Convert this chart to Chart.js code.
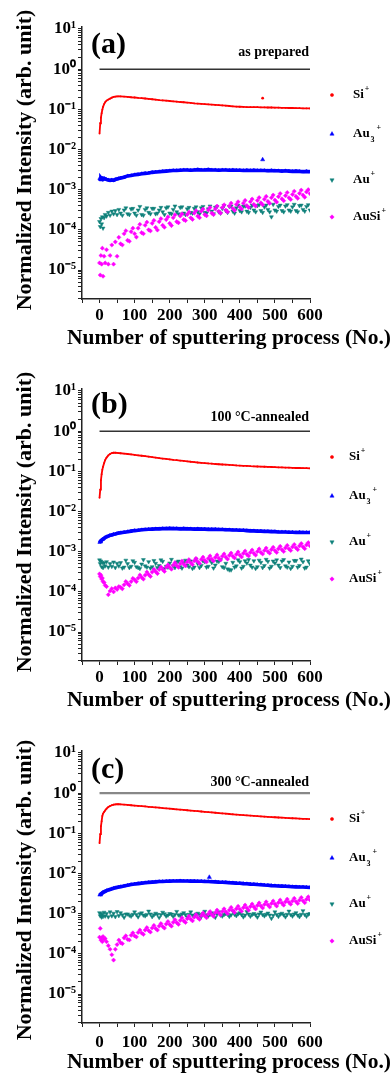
<!DOCTYPE html>
<html>
<head>
<meta charset="utf-8">
<script src="https://cdn.jsdelivr.net/npm/chart.js@4.4.0/dist/chart.umd.min.js"></script>
<style>
html, body { margin: 0; padding: 0; background: #fff; overflow: hidden; }
.panel { position: absolute; left: 0; width: 392px; }
canvas { display: block; }
</style>
</head>
<body>
<div class="panel" style="top:0"><canvas id="chartA" width="392" height="362"></canvas></div>
<div class="panel" style="top:362px"><canvas id="chartB" width="392" height="362"></canvas></div>
<div class="panel" style="top:724px"><canvas id="chartC" width="392" height="349"></canvas></div>
<script>
// sputtering step numbers shared by every series
const xs = [0, 2, 4, 6, 8, 10, 13, 16, 20, 25, 30, 35, 40, 45, 50, 55, 60,
  70, 80, 90, 100, 110, 120, 130, 140, 150, 160, 170, 180, 190, 200,
  210, 220, 230, 240, 250, 260, 270, 280, 290, 300, 310, 320, 330, 340, 350,
  360, 370, 380, 390, 400, 410, 420, 430, 440, 450, 460, 470, 480, 490, 500,
  510, 520, 530, 540, 550, 560, 570, 580, 590, 600];
// extra in-between steps for the scattered Au+ / AuSi+ bands
const xsMid = [65, 75, 85, 95, 105, 115, 125, 135, 145, 155, 165, 175, 185, 195,
  205, 215, 225, 235, 245, 255, 265, 275, 285, 295, 305, 315, 325, 335, 345,
  355, 365, 375, 385, 395, 405, 415, 425, 435, 445, 455, 465, 475, 485, 495,
  505, 515, 525, 535, 545, 555, 565, 575, 585, 595];

// (a) as prepared
const siA = [0.025, 0.045, 0.062, 0.08, 0.098, 0.115, 0.135, 0.15, 0.165, 0.175, 0.185, 0.195, 0.203, 0.208, 0.21, 0.211, 0.21,
  0.208, 0.205, 0.2, 0.197, 0.193, 0.19, 0.186, 0.182, 0.178, 0.174, 0.17, 0.167, 0.164, 0.161,
  0.158, 0.155, 0.152, 0.15, 0.147, 0.144, 0.141, 0.139, 0.137, 0.135, 0.133, 0.131, 0.129, 0.127, 0.125,
  0.123, 0.121, 0.119, 0.117, 0.116, 0.115, 0.114, 0.114, 0.113, 0.113, 0.112, 0.112, 0.111, 0.111, 0.11,
  0.11, 0.109, 0.109, 0.108, 0.108, 0.107, 0.107, 0.106, 0.106, 0.105];
const au3A = [1.9e-3, 1.8e-3, 1.95e-3, 1.85e-3, 1.9e-3, 1.8e-3, 1.9e-3, 1.85e-3, 1.8e-3, 1.75e-3, 1.7e-3, 1.75e-3, 1.7e-3, 1.8e-3, 1.85e-3, 1.9e-3, 1.95e-3,
  2.05e-3, 2.2e-3, 2.25e-3, 2.35e-3, 2.4e-3, 2.5e-3, 2.55e-3, 2.6e-3, 2.7e-3, 2.75e-3, 2.8e-3, 2.85e-3, 2.9e-3, 2.95e-3,
  3.0e-3, 3.0e-3, 3.05e-3, 3.1e-3, 3.1e-3, 3.05e-3, 3.1e-3, 3.15e-3, 3.1e-3, 3.1e-3, 3.15e-3, 3.1e-3, 3.1e-3, 3.05e-3, 3.1e-3,
  3.1e-3, 3.05e-3, 3.1e-3, 3.05e-3, 3.05e-3, 3.0e-3, 3.05e-3, 3.0e-3, 3.05e-3, 3.0e-3, 3.0e-3, 3.0e-3, 2.95e-3, 3.0e-3, 2.95e-3,
  2.95e-3, 2.9e-3, 2.95e-3, 2.9e-3, 2.85e-3, 2.9e-3, 2.85e-3, 2.8e-3, 2.85e-3, 2.8e-3];
const auA = [1.6e-4, 1.2e-4, 1.9e-4, 1.4e-4, 2.1e-4, 1.1e-4, 2.0e-4, 2.4e-4, 2.2e-4, 2.7e-4, 2.3e-4, 2.9e-4, 2.5e-4, 3.0e-4, 2.4e-4, 3.2e-4, 2.6e-4,
  3.1e-4, 2.5e-4, 3.3e-4, 2.6e-4, 3.1e-4, 2.4e-4, 3.2e-4, 2.7e-4, 3.4e-4, 2.5e-4, 3.1e-4, 2.8e-4, 3.5e-4, 2.6e-4,
  3.2e-4, 2.8e-4, 3.6e-4, 2.6e-4, 3.3e-4, 2.7e-4, 3.4e-4, 2.8e-4, 3.5e-4, 2.7e-4, 3.3e-4, 2.9e-4, 3.6e-4, 2.8e-4, 3.4e-4,
  3.0e-4, 3.8e-4, 2.9e-4, 3.5e-4, 3.0e-4, 3.9e-4, 2.9e-4, 3.6e-4, 3.1e-4, 4.0e-4, 3.0e-4, 3.7e-4, 3.2e-4, 2.1e-4, 3.1e-4,
  3.8e-4, 3.0e-4, 3.9e-4, 3.1e-4, 3.7e-4, 3.0e-4, 4.0e-4, 3.2e-4, 3.8e-4, 3.1e-4];
const auMidA = [2.3e-4, 3.5e-4, 2.4e-4, 3.4e-4, 2.3e-4, 3.8e-4, 2.3e-4, 3.5e-4, 2.5e-4, 3.4e-4, 2.6e-4, 3.6e-4, 2.4e-4, 3.7e-4,
  2.5e-4, 3.9e-4, 2.5e-4, 3.7e-4, 2.4e-4, 3.6e-4, 2.6e-4, 3.7e-4, 2.5e-4, 3.8e-4, 2.6e-4, 3.9e-4, 2.5e-4, 3.8e-4, 2.6e-4,
  4.0e-4, 2.7e-4, 3.9e-4, 2.6e-4, 4.1e-4, 2.8e-4, 3.9e-4, 2.7e-4, 4.1e-4, 2.8e-4, 4.2e-4, 2.7e-4, 4.1e-4, 2.8e-4, 4.3e-4,
  2.9e-4, 4.1e-4, 2.8e-4, 4.2e-4, 2.9e-4, 4.3e-4, 2.8e-4, 4.1e-4, 2.9e-4, 4.2e-4];
const auSiA = [1.5e-5, 7.5e-6, 2.3e-5, 1.4e-5, 3.5e-5, 7e-6, 2.2e-5, 1.5e-5, 3.2e-5, 1.4e-5, 2.3e-5, 4.2e-5, 1.4e-5, 5.0e-5, 2.2e-5, 6.5e-5, 4.5e-5,
  8.0e-5, 5.5e-5, 9.0e-5, 8.0e-5, 1.1e-4, 8.5e-5, 1.3e-4, 1.0e-4, 1.45e-4, 1.15e-4, 1.6e-4, 1.3e-4, 1.8e-4, 1.45e-4,
  2.0e-4, 1.6e-4, 2.2e-4, 1.8e-4, 2.4e-4, 2.0e-4, 2.6e-4, 2.2e-4, 2.9e-4, 2.4e-4, 3.1e-4, 2.6e-4, 3.3e-4, 2.9e-4, 3.6e-4,
  3.1e-4, 3.9e-4, 3.4e-4, 4.3e-4, 3.7e-4, 4.6e-4, 4.0e-4, 5.0e-4, 4.3e-4, 5.4e-4, 4.7e-4, 5.8e-4, 5.1e-4, 6.3e-4, 5.5e-4,
  6.7e-4, 5.9e-4, 7.1e-4, 6.3e-4, 7.6e-4, 6.8e-4, 8.1e-4, 7.3e-4, 8.8e-4, 8.0e-4];
const auSiMidA = [4.2e-5, 9.5e-5, 5.2e-5, 1.1e-4, 6.6e-5, 1.37e-4, 8.0e-5, 1.55e-4, 9.4e-5, 1.72e-4, 9.9e-5, 1.9e-4, 1.16e-4, 2.1e-4,
  1.28e-4, 2.37e-4, 1.5e-4, 2.5e-4, 1.7e-4, 2.75e-4, 1.82e-4, 3.0e-4, 2.0e-4, 3.28e-4, 2.24e-4, 3.6e-4, 2.4e-4, 3.9e-4, 2.6e-4,
  4.2e-4, 2.8e-4, 4.6e-4, 3.04e-4, 5.0e-4, 3.3e-4, 5.4e-4, 3.6e-4, 5.85e-4, 3.9e-4, 6.35e-4, 4.2e-4, 6.8e-4, 4.56e-4, 7.35e-4,
  4.9e-4, 8.0e-4, 5.3e-4, 8.5e-4, 5.7e-4, 9.15e-4, 6.1e-4, 9.75e-4, 6.5e-4, 1.0e-3];
const siOutA = [[465, 0.19]];
const au3OutA = [[465, 5.6e-3]];

// (b) 100 C annealed
const siB = [0.022, 0.035, 0.06, 0.085, 0.11, 0.13, 0.16, 0.19, 0.22, 0.25, 0.27, 0.285, 0.29, 0.29, 0.288, 0.285, 0.282,
  0.277, 0.27, 0.263, 0.256, 0.25, 0.244, 0.238, 0.232, 0.226, 0.22, 0.214, 0.208, 0.203, 0.198,
  0.193, 0.189, 0.185, 0.181, 0.177, 0.173, 0.17, 0.166, 0.163, 0.16, 0.157, 0.155, 0.152, 0.15, 0.148,
  0.146, 0.144, 0.142, 0.14, 0.139, 0.137, 0.136, 0.134, 0.133, 0.132, 0.131, 0.13, 0.129, 0.128, 0.127,
  0.126, 0.125, 0.124, 0.123, 0.122, 0.121, 0.121, 0.12, 0.12, 0.119];
const au3B = [1.7e-3, 1.8e-3, 1.85e-3, 1.95e-3, 2.0e-3, 2.05e-3, 2.15e-3, 2.25e-3, 2.35e-3, 2.45e-3, 2.55e-3, 2.6e-3, 2.7e-3, 2.75e-3, 2.85e-3, 2.9e-3, 2.95e-3,
  3.05e-3, 3.15e-3, 3.25e-3, 3.35e-3, 3.4e-3, 3.5e-3, 3.55e-3, 3.6e-3, 3.65e-3, 3.7e-3, 3.7e-3, 3.75e-3, 3.75e-3, 3.8e-3,
  3.75e-3, 3.75e-3, 3.7e-3, 3.75e-3, 3.7e-3, 3.7e-3, 3.65e-3, 3.7e-3, 3.65e-3, 3.65e-3, 3.6e-3, 3.6e-3, 3.6e-3, 3.55e-3, 3.55e-3,
  3.5e-3, 3.5e-3, 3.45e-3, 3.45e-3, 3.4e-3, 3.4e-3, 3.35e-3, 3.3e-3, 3.3e-3, 3.25e-3, 3.25e-3, 3.2e-3, 3.2e-3, 3.15e-3, 3.15e-3,
  3.1e-3, 3.1e-3, 3.1e-3, 3.05e-3, 3.05e-3, 3.0e-3, 3.05e-3, 3.0e-3, 3.0e-3, 3.0e-3];
const auB = [6.2e-4, 5.0e-4, 5.8e-4, 4.2e-4, 5.4e-4, 4.0e-4, 5.2e-4, 4.4e-4, 5.6e-4, 4.1e-4, 5.0e-4, 4.3e-4, 5.5e-4, 4.0e-4, 5.1e-4, 4.4e-4, 5.3e-4,
  4.1e-4, 5.0e-4, 4.3e-4, 5.4e-4, 4.0e-4, 4.9e-4, 4.4e-4, 5.6e-4, 4.2e-4, 5.1e-4, 4.5e-4, 5.7e-4, 4.3e-4, 5.2e-4,
  4.4e-4, 5.5e-4, 4.2e-4, 5.3e-4, 4.6e-4, 5.8e-4, 4.1e-4, 5.0e-4, 4.5e-4, 5.6e-4, 4.3e-4, 5.3e-4, 4.6e-4, 5.7e-4, 4.2e-4,
  5.1e-4, 3.5e-4, 5.4e-4, 4.4e-4, 5.6e-4, 4.3e-4, 5.2e-4, 4.6e-4, 5.9e-4, 4.2e-4, 5.4e-4, 4.5e-4, 5.7e-4, 4.3e-4, 5.2e-4,
  4.6e-4, 5.8e-4, 4.4e-4, 5.5e-4, 4.3e-4, 6.0e-4, 4.5e-4, 5.6e-4, 4.1e-4, 5.0e-4];
const auMidB = [3.9e-4, 6.1e-4, 4.0e-4, 5.9e-4, 4.2e-4, 3.8e-4, 6.3e-4, 4.1e-4, 3.9e-4, 6.0e-4, 4.0e-4, 6.2e-4, 3.8e-4, 4.1e-4,
  6.4e-4, 4.0e-4, 5.8e-4, 3.9e-4, 6.1e-4, 4.2e-4, 3.8e-4, 6.5e-4, 4.0e-4, 5.9e-4, 4.1e-4, 6.2e-4, 3.9e-4, 5.8e-4, 6.3e-4,
  4.0e-4, 3.7e-4, 3.5e-4, 4.1e-4, 6.2e-4, 3.9e-4, 5.9e-4, 6.3e-4, 4.1e-4, 3.8e-4, 6.1e-4, 4.0e-4, 6.4e-4, 3.9e-4, 5.8e-4,
  6.2e-4, 4.0e-4, 6.3e-4, 4.1e-4, 3.8e-4, 6.0e-4, 4.1e-4, 6.5e-4, 3.9e-4, 5.9e-4];
const auSiB = [2.8e-4, 2.4e-4, 2.6e-4, 2.1e-4, 2.2e-4, 1.8e-4, 1.7e-4, 1.45e-4, 1.35e-4, 8.5e-5, 1.05e-4, 1.2e-4, 1.0e-4, 1.25e-4, 1.15e-4, 1.35e-4, 1.3e-4,
  1.5e-4, 1.6e-4, 1.8e-4, 2.0e-4, 2.2e-4, 2.3e-4, 2.6e-4, 2.7e-4, 3.1e-4, 3.2e-4, 3.6e-4, 3.6e-4, 4.1e-4, 4.1e-4,
  4.6e-4, 4.5e-4, 5.0e-4, 4.9e-4, 5.5e-4, 5.3e-4, 5.9e-4, 5.7e-4, 6.4e-4, 6.1e-4, 6.8e-4, 6.5e-4, 7.2e-4, 6.9e-4, 7.7e-4,
  7.3e-4, 8.1e-4, 7.7e-4, 8.6e-4, 8.2e-4, 9.1e-4, 8.6e-4, 9.6e-4, 9.1e-4, 1.01e-3, 9.6e-4, 1.07e-3, 1.01e-3, 1.13e-3, 1.07e-3,
  1.18e-3, 1.12e-3, 1.24e-3, 1.18e-3, 1.31e-3, 1.25e-3, 1.39e-3, 1.32e-3, 1.47e-3, 1.4e-3];
const auSiMidB = [1.19e-4, 1.81e-4, 1.45e-4, 2.16e-4, 1.79e-4, 2.63e-4, 2.08e-4, 3.1e-4, 2.42e-4, 3.63e-4, 2.85e-4, 4.15e-4, 3.23e-4, 4.68e-4,
  3.66e-4, 5.32e-4, 4.08e-4, 5.85e-4, 4.42e-4, 6.32e-4, 4.76e-4, 6.79e-4, 5.1e-4, 7.31e-4, 5.53e-4, 7.84e-4, 5.87e-4, 8.31e-4, 6.2e-4,
  8.78e-4, 6.55e-4, 9.24e-4, 6.97e-4, 9.83e-4, 7.4e-4, 1.04e-3, 7.82e-4, 1.1e-3, 8.25e-4, 1.17e-3, 8.76e-4, 1.23e-3, 9.18e-4, 1.29e-3,
  9.6e-4, 1.36e-3, 1.01e-3, 1.43e-3, 1.07e-3, 1.51e-3, 1.13e-3, 1.59e-3, 1.19e-3, 1.68e-3];

// (c) 300 C annealed
const siC = [0.057, 0.095, 0.15, 0.2, 0.27, 0.31, 0.34, 0.37, 0.41, 0.45, 0.48, 0.5, 0.515, 0.525, 0.53, 0.53, 0.528,
  0.52, 0.51, 0.5, 0.49, 0.482, 0.474, 0.466, 0.458, 0.45, 0.442, 0.434, 0.426, 0.418, 0.41,
  0.403, 0.396, 0.389, 0.382, 0.375, 0.368, 0.362, 0.355, 0.349, 0.343, 0.337, 0.331, 0.325, 0.319, 0.313,
  0.308, 0.303, 0.298, 0.293, 0.288, 0.284, 0.28, 0.276, 0.272, 0.268, 0.264, 0.26, 0.257, 0.254, 0.251,
  0.248, 0.245, 0.242, 0.24, 0.237, 0.235, 0.232, 0.23, 0.228, 0.226];
const au3C = [2.9e-3, 3.0e-3, 3.1e-3, 3.2e-3, 3.3e-3, 3.4e-3, 3.5e-3, 3.6e-3, 3.75e-3, 3.9e-3, 4.0e-3, 4.15e-3, 4.3e-3, 4.4e-3, 4.5e-3, 4.6e-3, 4.7e-3,
  4.9e-3, 5.1e-3, 5.3e-3, 5.45e-3, 5.6e-3, 5.75e-3, 5.9e-3, 6.0e-3, 6.1e-3, 6.2e-3, 6.3e-3, 6.35e-3, 6.4e-3, 6.45e-3,
  6.5e-3, 6.5e-3, 6.55e-3, 6.5e-3, 6.5e-3, 6.45e-3, 6.45e-3, 6.4e-3, 6.4e-3, 6.35e-3, 6.3e-3, 6.25e-3, 6.2e-3, 6.1e-3, 6.05e-3,
  6.0e-3, 5.9e-3, 5.85e-3, 5.75e-3, 5.7e-3, 5.6e-3, 5.55e-3, 5.45e-3, 5.4e-3, 5.3e-3, 5.25e-3, 5.15e-3, 5.1e-3, 5.0e-3, 4.95e-3,
  4.9e-3, 4.85e-3, 4.8e-3, 4.75e-3, 4.7e-3, 4.65e-3, 4.6e-3, 4.6e-3, 4.55e-3, 4.5e-3];
const auC = [1.05e-3, 8.8e-4, 1.0e-3, 8.2e-4, 9.6e-4, 8.5e-4, 1.08e-3, 8.7e-4, 1.0e-3, 8.3e-4, 1.1e-3, 8.8e-4, 1.02e-3, 8.4e-4, 1.12e-3, 8.9e-4, 1.05e-3,
  8.1e-4, 9.8e-4, 8.6e-4, 1.1e-3, 8.3e-4, 1.04e-3, 8.8e-4, 1.15e-3, 8.4e-4, 1.02e-3, 8.0e-4, 1.08e-3, 8.7e-4, 1.0e-3,
  8.5e-4, 1.13e-3, 8.9e-4, 1.05e-3, 8.2e-4, 1.1e-3, 8.6e-4, 1.02e-3, 8.4e-4, 1.14e-3, 8.8e-4, 1.04e-3, 8.1e-4, 1.1e-3, 8.7e-4,
  1.0e-3, 8.5e-4, 1.16e-3, 8.9e-4, 1.05e-3, 8.3e-4, 1.12e-3, 8.6e-4, 1.0e-3, 8.2e-4, 1.09e-3, 8.8e-4, 1.03e-3, 7.6e-4, 1.1e-3,
  8.5e-4, 1.02e-3, 8.3e-4, 1.15e-3, 8.7e-4, 1.05e-3, 8.4e-4, 1.18e-3, 8.6e-4, 1.0e-3];
const auMidC = [9.3e-4, 9.7e-4, 9.1e-4, 9.6e-4, 9.4e-4, 9.9e-4, 9.2e-4, 9.5e-4, 9.8e-4, 9.3e-4, 9.6e-4, 9.4e-4, 9.9e-4, 9.2e-4,
  9.7e-4, 9.5e-4, 9.3e-4, 9.8e-4, 9.4e-4, 9.6e-4, 9.2e-4, 9.7e-4, 9.5e-4, 9.9e-4, 9.3e-4, 9.6e-4, 9.4e-4, 9.8e-4, 9.2e-4,
  9.5e-4, 9.7e-4, 9.3e-4, 9.6e-4, 9.9e-4, 9.4e-4, 9.2e-4, 9.7e-4, 9.5e-4, 9.3e-4, 9.8e-4, 9.4e-4, 9.6e-4, 9.2e-4, 9.0e-4,
  9.5e-4, 9.7e-4, 9.3e-4, 9.6e-4, 9.4e-4, 9.8e-4, 9.2e-4, 9.6e-4, 9.5e-4, 9.7e-4];
const auSiC = [2.6e-4, 4.3e-4, 2.2e-4, 2.5e-4, 2.0e-4, 2.7e-4, 2.3e-4, 2.4e-4, 2.0e-4, 1.6e-4, 1.3e-4, 9.5e-5, 7e-5, 1.3e-4, 1.7e-4, 2.2e-4, 1.9e-4,
  2.5e-4, 2.3e-4, 2.9e-4, 2.8e-4, 3.4e-4, 3.3e-4, 3.9e-4, 3.8e-4, 4.4e-4, 4.3e-4, 4.9e-4, 4.8e-4, 5.5e-4, 5.4e-4,
  6.1e-4, 6.0e-4, 6.8e-4, 6.6e-4, 7.5e-4, 7.3e-4, 8.2e-4, 8.0e-4, 9.0e-4, 8.8e-4, 9.8e-4, 9.6e-4, 1.06e-3, 1.04e-3, 1.14e-3,
  1.12e-3, 1.23e-3, 1.2e-3, 1.32e-3, 1.29e-3, 1.41e-3, 1.38e-3, 1.5e-3, 1.47e-3, 1.6e-3, 1.56e-3, 1.69e-3, 1.65e-3, 1.79e-3, 1.74e-3,
  1.88e-3, 1.83e-3, 1.97e-3, 1.92e-3, 2.07e-3, 2.01e-3, 2.17e-3, 2.1e-3, 2.28e-3, 2.2e-3];
const auSiMidC = [1.79e-4, 2.81e-4, 2.21e-4, 3.33e-4, 2.64e-4, 3.92e-4, 3.06e-4, 4.5e-4, 3.49e-4, 5.09e-4, 3.91e-4, 5.67e-4, 4.38e-4, 6.38e-4,
  4.89e-4, 7.08e-4, 5.44e-4, 7.9e-4, 6.04e-4, 8.66e-4, 6.63e-4, 9.48e-4, 7.23e-4, 1.04e-3, 7.91e-4, 1.13e-3, 8.59e-4, 1.23e-3, 9.27e-4,
  1.32e-3, 9.95e-4, 1.43e-3, 1.07e-3, 1.53e-3, 1.15e-3, 1.64e-3, 1.22e-3, 1.74e-3, 1.31e-3, 1.85e-3, 1.39e-3, 1.97e-3, 1.47e-3, 2.07e-3,
  1.55e-3, 2.19e-3, 1.63e-3, 2.3e-3, 1.72e-3, 2.41e-3, 1.79e-3, 2.53e-3, 1.87e-3, 2.63e-3];
const siOutC = [];
const au3OutC = [[313, 8.1e-3]];

// reference line at normalized intensity 1
const refLineX = [0, 600];
const refLineY = 1;

// axes
const xTickLabels = [0, 100, 200, 300, 400, 500, 600];
const yDecades = [1e-6, 1e-5, 1e-4, 1e-3, 1e-2, 1e-1, 1, 10];
const yMajorLabels = [1e-5, 1e-4, 1e-3, 1e-2, 1e-1, 1, 10];

const panelLabels = ['(a)', '(b)', '(c)'];
const conditions = ['as prepared', '100 \u00B0C-annealed', '300 \u00B0C-annealed'];
const seriesNames = ['Si', 'Au', 'Au', 'AuSi'];

const RED = '#ff0000', BLUE = '#0000ff', TEAL = '#0f807a', MAGENTA = '#ff00ff';
const SERIF = '"Liberation Serif", "Times New Roman", serif';

const sup = { '-': '\u207B', '0': '\u2070', '1': '\u00B9', '2': '\u00B2', '3': '\u00B3', '4': '\u2074', '5': '\u2075' };
function powLabel(v) {
    const e = Math.round(Math.log10(v));
    return '10' + String(e).split('').map(c => sup[c]).join('');
}

function pts(ys, xv) {
    const xArr = xv || xs;
    return xArr.map((x, i) => ({ x: x, y: ys[i] }));
}
function pairs(list) {
    return list.map(p => ({ x: p[0], y: p[1] }));
}

// panel letter, condition, axis titles and legend
const decor = {
    id: 'decor',
    afterDraw(chart) {
        const o = chart.options.plugins.decor;
        const ctx = chart.ctx;
        const area = chart.chartArea;
        ctx.save();
        ctx.fillStyle = '#000';
        ctx.textBaseline = 'middle';

        ctx.font = 'bold 30px ' + SERIF;
        ctx.textAlign = 'left';
        ctx.fillText(o.letter, 91, o.letterY);

        ctx.font = 'bold 14px ' + SERIF;
        ctx.textAlign = 'right';
        ctx.fillText(o.condition, 309, o.conditionY);

        ctx.font = 'bold 21.5px ' + SERIF;
        ctx.textAlign = 'center';
        ctx.fillText('Number of sputtering process (No.)', 229, o.xTitleY);

        ctx.save();
        ctx.translate(25, o.yTitleY);
        ctx.rotate(-Math.PI / 2);
        ctx.font = 'bold 22px ' + SERIF;
        ctx.fillText('Normalized Intensity (arb. unit)', 0, 0);
        ctx.restore();

        // legend
        const rows = [95, 134, 180, 217];
        const styles = [
            { pointStyle: 'circle', radius: 1.6, rotation: 0, color: RED },
            { pointStyle: 'triangle', radius: 2.4, rotation: 0, color: BLUE },
            { pointStyle: 'triangle', radius: 2.4, rotation: 180, color: TEAL },
            { pointStyle: 'rectRot', radius: 2.2, rotation: 0, color: MAGENTA }
        ];
        rows.forEach((ry, i) => {
            const y = area.top + ry - 27;
            const s = styles[i];
            ctx.fillStyle = s.color;
            ctx.strokeStyle = s.color;
            ctx.lineWidth = 0.5;
            Chart.helpers.drawPoint(ctx, { pointStyle: s.pointStyle, radius: s.radius, rotation: s.rotation, borderWidth: 0.5 }, 332, y);
            ctx.fillStyle = '#000';
            ctx.textAlign = 'left';
            ctx.font = 'bold 13px ' + SERIF;
            const name = seriesNames[i];
            ctx.fillText(name, o.legendX, y);
            let x = o.legendX + ctx.measureText(name).width;
            ctx.font = 'bold 8px ' + SERIF;
            if (i === 1) {
                ctx.fillText('3', x + 1, y + 6);
                x += 6;
            }
            ctx.fillText('+', x + 1, y - 6);
        });
        ctx.restore();
    }
};

function makeChart(id, height, series, mids, outliers, p) {
    const [si, au3, au, auSi] = series;
    const datasets = [
        { data: pts(si), showLine: true, borderColor: RED, backgroundColor: RED, borderWidth: 1.8,
          pointStyle: 'circle', pointRadius: 0.9, pointBorderWidth: 0, order: 1 },
        { data: pairs(outliers[0]), borderColor: RED, backgroundColor: RED,
          pointStyle: 'circle', pointRadius: 1.4, pointBorderWidth: 0, order: 1 },
        { data: pts(au3), showLine: true, borderColor: BLUE, backgroundColor: BLUE, borderWidth: 3.6,
          pointStyle: 'triangle', pointRadius: 2, pointBorderWidth: 0.5, order: 2 },
        { data: pairs(outliers[1]), borderColor: BLUE, backgroundColor: BLUE,
          pointStyle: 'triangle', pointRadius: 2.4, pointBorderWidth: 0.5, order: 2 },
        { data: pts(au).concat(pts(mids[0], xsMid)), borderColor: TEAL, backgroundColor: TEAL,
          pointStyle: 'triangle', rotation: 180, pointRadius: 2.3, pointBorderWidth: 0.5, order: 4 },
        { data: pts(auSi).concat(pts(mids[1], xsMid)), borderColor: MAGENTA, backgroundColor: MAGENTA,
          pointStyle: 'rectRot', pointRadius: 2.1, pointBorderWidth: 0.5, order: 3 },
        { data: refLineX.map(x => ({ x: x, y: refLineY })), showLine: true, borderColor: p.refColor,
          borderWidth: p.refWidth, pointRadius: 0, order: 0 }
    ];
    return new Chart(document.getElementById(id), {
        type: 'scatter',
        data: { datasets: datasets },
        options: {
            responsive: false,
            animation: false,
            events: [],
            layout: { padding: { top: 27, right: 82, left: 0, bottom: 0 } },
            plugins: {
                legend: { display: false },
                tooltip: { enabled: false },
                decor: p
            },
            scales: {
                x: {
                    type: 'linear',
                    min: -50,
                    max: 600,
                    afterFit: s => { s.height = height - 299; },
                    border: { color: '#222', width: 1.5 },
                    grid: { drawOnChartArea: false, drawTicks: true, tickLength: 4, color: '#222' },
                    ticks: {
                        stepSize: 50,
                        autoSkip: false,
                        maxRotation: 0,
                        padding: p.xTickPad,
                        color: '#000',
                        font: { family: SERIF, size: 17, weight: 'bold' },
                        callback: v => xTickLabels.includes(v) ? String(v) : ''
                    }
                },
                y: {
                    type: 'logarithmic',
                    min: 1.9e-6,
                    max: 11.2,
                    afterFit: s => { s.width = 82; },
                    afterBuildTicks: s => {
                        const t = [];
                        yDecades.forEach(d => {
                            for (let k = 1; k <= 9; k++) {
                                const v = k === 1 ? d : d * k;
                                if (v >= s.min && v <= s.max) t.push({ value: v, major: k === 1 });
                            }
                        });
                        s.ticks = t;
                    },
                    border: { color: '#222', width: 1.5 },
                    grid: { drawOnChartArea: false, drawTicks: true, tickLength: 4, color: '#222' },
                    ticks: {
                        autoSkip: false,
                        padding: 2,
                        color: '#000',
                        font: { family: SERIF, size: 17, weight: 'bold' },
                        callback: v => yMajorLabels.includes(v) ? powLabel(v) : ''
                    }
                }
            }
        },
        plugins: [decor]
    });
}

makeChart('chartA', 362, [siA, au3A, auA, auSiA], [auMidA, auSiMidA], [siOutA, au3OutA], {
    letter: panelLabels[0], letterY: 45, condition: conditions[0], conditionY: 52,
    xTitleY: 338, yTitleY: 160, legendX: 353, xTickPad: 2, refColor: '#333', refWidth: 1.5
});
makeChart('chartB', 362, [siB, au3B, auB, auSiB], [auMidB, auSiMidB], [[], []], {
    letter: panelLabels[1], letterY: 43, condition: conditions[1], conditionY: 55,
    xTitleY: 338, yTitleY: 160, legendX: 349, xTickPad: 2, refColor: '#333', refWidth: 1.5
});
makeChart('chartC', 349, [siC, au3C, auC, auSiC], [auMidC, auSiMidC], [siOutC, au3OutC], {
    letter: panelLabels[2], letterY: 46, condition: conditions[2], conditionY: 58,
    xTitleY: 338, yTitleY: 166, legendX: 349, xTickPad: 5, refColor: '#888', refWidth: 2.2
});
</script>
</body>
</html>
